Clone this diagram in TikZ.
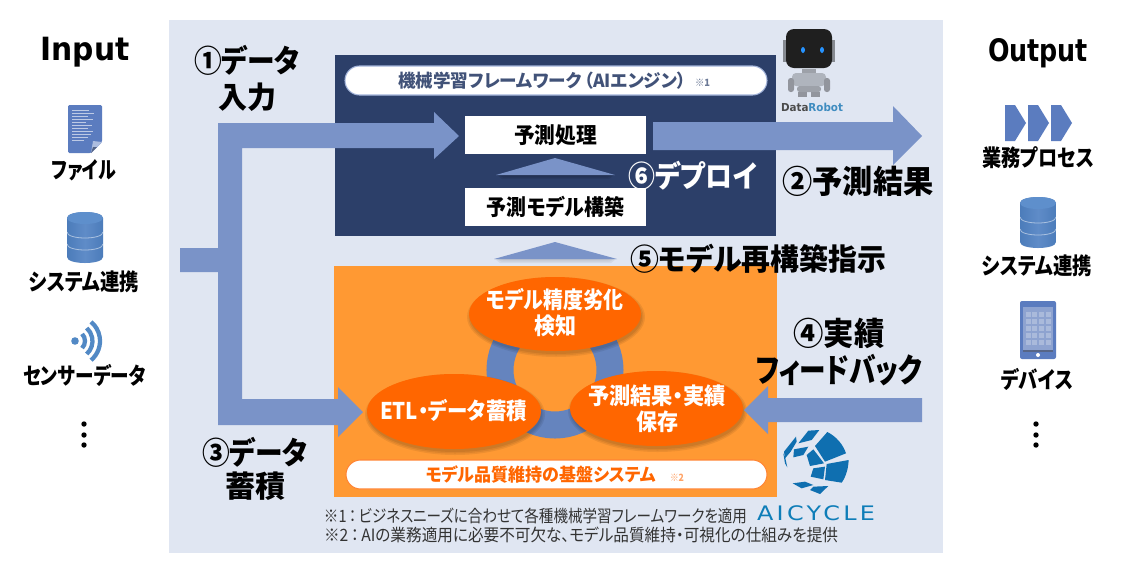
\documentclass[tikz,border=0pt]{standalone}
\usepackage{fontspec}
\usepackage{graphicx}
\usetikzlibrary{shapes.geometric,shapes.misc}
\setmainfont[RawFeature={+palt}]{Noto Sans CJK JP}
\newfontfamily\latf{DejaVu Sans}
\newfontfamily\logof[LetterSpace=14]{DejaVu Sans}
\newcommand\T[3]{\resizebox{\dimexpr#2pt*3/4\relax}{\height}{\fontsize{\the\dimexpr#1pt*3/4\relax}{\the\dimexpr#1pt*3/4\relax}\selectfont #3}}
\definecolor{panelc}{HTML}{E0E6F2}
\definecolor{navyc}{HTML}{2C3F69}
\definecolor{orgc}{HTML}{FF9933}
\definecolor{deeporg}{HTML}{FF6600}
\definecolor{arrowc}{HTML}{7A93C8}
\definecolor{ringc}{HTML}{6584BE}
\definecolor{iconc}{HTML}{5B7CBF}
\definecolor{cylside}{HTML}{4C7CBA}
\definecolor{cylmid}{HTML}{5F8CC8}
\definecolor{cyltop}{HTML}{5E8FCC}
\definecolor{logoc}{HTML}{0F6FB0}
\tikzset{
  lbl/.style={inner sep=0pt,outer sep=0pt,font=\bfseries,text=black},
  plain/.style={inner sep=0pt,outer sep=0pt,text=black!80},
  whitebox/.style={fill=white,inner sep=0pt,outer sep=0pt},
  blockarrow/.style={fill=arrowc,draw=none},
  bubble/.style={ellipse,fill=deeporg,inner sep=0pt,outer sep=0pt},
  bubbletxt/.style={inner sep=0pt,outer sep=0pt,text=white,font=\bfseries},
  softsh/.style={fill=black,opacity=.07,draw=none},
  tile/.style={fill=logoc,draw=none},
  liteline/.style={draw=white,opacity=.5,line width=.6pt}
}
\newcommand\cylicon[2]{%
  \begin{scope}[shift={(#1,#2)}]
    \path[left color=cylside,right color=cylside,middle color=cylmid]
      (0,6) -- (0,45) .. controls (0,53) and (36,53) .. (36,45) -- (36,6) .. controls (36,-2) and (0,-2) .. (0,6) -- cycle;
    \fill[cyltop] (18,6) ellipse[x radius=18,y radius=6];
    \draw[liteline] (0,20) .. controls (0,28) and (36,28) .. (36,20);
    \draw[liteline] (0,32) .. controls (0,40) and (36,40) .. (36,32);
  \end{scope}}
\newcommand\softell[4]{%
  \foreach \g in {0,1.5,3}{\fill[softsh] (#1+1,#2+3) ellipse[x radius=#3+\g,y radius=#4+\g];}}
\begin{document}
\begin{tikzpicture}[x=.75pt,y=-.75pt]
\useasboundingbox (0,0) rectangle (1122,569);
\fill[white] (0,0) rectangle (1122,569);
\fill[panelc] (169,20) rectangle (943,553);
% main boxes
\fill[navyc] (335,55) rectangle (776,236);
\fill[orgc] (334,266) rectangle (777,497);
% top pill
\node[rounded rectangle,fill=white,draw=arrowc!70!white,line width=.8pt,minimum width=316.5pt,minimum height=21.75pt,inner sep=0pt] (pilltop) at (556,80.5) {};
\node[lbl,text=navyc!90!white] (pilltoptxt) at (542,81) {\T{18}{288}{機械学習フレームワーク\,（AIエンジン）}};
\node[lbl,text=navyc!70!white] (mark1) at (702.5,83) {\T{10}{15}{※1}};
% process boxes
\node[whitebox,minimum width=135.75pt,minimum height=28.5pt] (pred) at (555.5,135) {\bfseries\T{22}{83}{予測処理}};
\node[whitebox,minimum width=135.75pt,minimum height=28.5pt] (build) at (555.5,207) {\bfseries\T{22}{137}{予測モデル構築}};
% up triangles
\foreach \g in {0,1.5,3}{\fill[black,opacity=.09] (500-\g,175) -- (611+\g,175) -- (606+\g,176+\g) -- (505-\g,176+\g) -- cycle;}
\fill[arrowc] (496,175) -- (555,158) -- (615,175) -- cycle;
\foreach \g in {0,1.5,3}{\fill[black,opacity=.05] (498-\g,259) -- (613+\g,259) -- (608+\g,260+\g) -- (503-\g,260+\g) -- cycle;}
\fill[arrowc] (494,259) -- (555,242) -- (617,259) -- cycle;
% ring and bubbles
\draw[ringc,line width=20.25pt] (555,370) circle[radius=55];
\softell{555}{314}{86}{37}
\softell{454}{411.5}{87}{37.5}
\softell{656.5}{408.5}{86.5}{37.5}
\node[bubble,minimum width=129pt,minimum height=55.5pt] (detect) at (555,314) {};
\node[bubble,minimum width=130.5pt,minimum height=56.25pt] (etl) at (454,411.5) {};
\node[bubble,minimum width=129.75pt,minimum height=56.25pt] (save) at (656.5,408.5) {};
\node[bubbletxt] (detect1) at (555,300) {\T{23}{137}{モデル精度劣化}};
\node[bubbletxt] (detect2) at (555,326) {\T{23}{42}{検知}};
\node[bubbletxt] (etl1) at (453.5,411) {\T{23}{147}{ETL・データ蓄積}};
\node[bubbletxt] (save1) at (657,396) {\T{23}{138}{予測結果・実績}};
\node[bubbletxt] (save2) at (657,422) {\T{23}{42}{保存}};
% bottom pill
\node[rounded rectangle,fill=white,draw=deeporg!80!white,line width=.8pt,minimum width=315.75pt,minimum height=21.75pt,inner sep=0pt] (pillbot) at (556.5,474.5) {};
\node[lbl,text=deeporg] (pillbottxt) at (541,474) {\T{18}{230}{モデル品質維持の基盤システム}};
\node[lbl,text=deeporg!60!white] (mark2) at (677,478) {\T{10}{14}{※2}};
% block arrows
\path[blockarrow] (180,248) -- (218,248) -- (218,123) -- (434,123) -- (434,112) -- (459,136) -- (434,159) -- (434,148)
  -- (242,148) -- (242,399) -- (338,399) -- (338,387) -- (363,412) -- (338,437) -- (338,425) -- (218,425) -- (218,272) -- (180,272) -- cycle;
\path[blockarrow] (653,122) -- (893,122) -- (893,106) -- (922,136) -- (893,165) -- (893,150) -- (653,150) -- cycle;
\path[blockarrow] (922,398) -- (768,398) -- (768,386) -- (744,410) -- (768,434) -- (768,422) -- (922,422) -- cycle;
% step labels
\node[lbl] (l1a) at (247,60) {\T{31}{106}{①データ}};
\node[lbl] (l1b) at (247,97) {\T{30}{58}{入力}};
\node[lbl] (l3a) at (255,452) {\T{31}{106}{③データ}};
\node[lbl] (l3b) at (255,486) {\T{30}{60}{蓄積}};
\node[lbl,text=white] (l6) at (692.5,176) {\T{30}{129}{⑥デプロイ}};
\node[lbl] (l2) at (858,181) {\T{32}{151}{②予測結果}};
\node[lbl] (l5) at (758,259) {\T{30}{256}{⑤モデル再構築指示}};
\node[lbl] (l4a) at (839,333) {\T{32}{91}{④実績}};
\node[lbl] (l4b) at (839,370) {\T{33}{166}{フィードバック}};
% footnotes
\node[plain] (fn1) at (535.5,516) {\T{17}{423}{※1\,：\,ビジネスニーズに合わせて各種機械学習フレームワークを適用}};
\node[plain] (fn2) at (581,535) {\T{17}{514}{※2\,：\,AIの業務適用に必要不可欠な、モデル品質維持・可視化の仕組みを提供}};
% headers
\node[lbl,font=\latf\bfseries] (input) at (85,52) {\T{32}{89}{Input}};
\node[lbl,font=\latf\bfseries] (output) at (1038,53) {\T{31}{100}{Output}};
% input items
\begin{scope}[shift={(68,105)}]
  \path[fill=iconc,rounded corners=1pt] (0,0) -- (34,0) -- (34,37) -- (23,48) -- (0,48) -- cycle;
  \fill[iconc!50!white] (34,37) -- (23,48) -- (25,36) -- cycle;
  \fill[navyc!80!white] (23,48) -- (25,42) -- (29,42) -- cycle;
  \foreach \yy/\xx in {5/21,8/26,11/20,14/25,17/18,20/24,23/20,26/25,29/23,32/20,35/16}
    \draw[white,opacity=.6,line width=.5pt] (4,\yy) -- (\xx,\yy);
\end{scope}
\node[lbl] (file) at (84,170) {\T{23}{64}{ファイル}};
\cylicon{67}{212}
\node[lbl] (sysin) at (84,282) {\T{23}{110}{システム連携}};
\fill[iconc!90!cyan] (75,341) circle[radius=3.8];
\begin{scope}[shift={(75,341)},yscale=-1]
  \draw[iconc!90!cyan,line width=3.2pt] (-45:10) arc[start angle=-45,end angle=45,radius=10];
  \draw[iconc!90!cyan,line width=3.2pt] (-48:17.5) arc[start angle=-48,end angle=48,radius=17.5];
  \draw[iconc!90!cyan,line width=3.2pt] (-50:25) arc[start angle=-50,end angle=50,radius=25];
\end{scope}
\node[lbl] (sensor) at (84.5,375) {\T{23}{123}{センサーデータ}};
\foreach \yy in {424,435,445} \fill[black] (84,\yy) circle[radius=2.7];
% output items
\foreach \xx in {1005,1028,1051}
  \fill[iconc] (\xx,105) -- (\xx+10,105) -- (\xx+21,123) -- (\xx+10,141) -- (\xx,141) -- cycle;
\node[lbl] (biz) at (1038,158) {\T{23}{112}{業務プロセス}};
\cylicon{1020}{197}
\node[lbl] (sysout) at (1037,266) {\T{23}{110}{システム連携}};
\fill[iconc,rounded corners=1.5pt] (1020,301) rectangle (1056,359);
\fill[arrowc!85!white] (1023,307) rectangle (1053,350);
\fill[navyc!80!white] (1023,350) rectangle (1053,352);
\foreach \cx in {0,1,2,3}\foreach \cy in {0,1,2,3,4}
  \fill[white,opacity=.25] (1025.5+\cx*6.9,312+\cy*7) rectangle +(5,5);
\fill[white] (1038,355) circle[radius=2];
\node[lbl] (device) at (1037,379) {\T{23}{72}{デバイス}};
\foreach \yy in {424,435,445} \fill[black] (1036,\yy) circle[radius=2.7];
% DataRobot logo
\fill[black!40!panelc] (783,40) rectangle (788,62);
\fill[black!40!panelc] (830,40) rectangle (835,62);
\fill[black!88,rounded corners=6pt] (786,29) rectangle (832,68);
\fill[black!30!panelc] (802,69) rectangle (816,74);
\fill[black!22!panelc,rounded corners=3pt] (792,73) rectangle (826,86);
\fill[black!30!panelc,rounded corners=2pt] (797,86) rectangle (821,92);
\fill[black!35!panelc,rounded corners=2pt] (788,78) rectangle (794,92);
\fill[black!35!panelc,rounded corners=2pt] (824,78) rectangle (830,92);
\fill[black!35!panelc] (798,92) rectangle (807,97);
\fill[black!35!panelc] (811,92) rectangle (820,97);
\fill[blue!50!cyan!85!white] (803,50) ellipse[x radius=2,y radius=3];
\fill[blue!50!cyan!85!white] (822,50) ellipse[x radius=2,y radius=3];
\node[inner sep=0pt,font=\latf\bfseries] (drlogo) at (812,107) {\T{11}{62}{\textcolor{black!70}{Data}\textcolor{logoc!80!white}{Robot}}};
% AICYCLE logo
\begin{scope}[shift={(770,420)},x=.25pt,y=-.25pt]
  \fill[tile] (85,70) -- (115,32) -- (148,30) -- (125,60) -- cycle;
  \fill[tile] (42,95) -- (78,50) -- (80,65) -- (62,95) -- (45,115) -- cycle;
  \fill[tile] (72,88) -- (115,80) -- (100,105) -- (70,112) -- cycle;
  \fill[tile] (172,36) .. controls (200,50) and (220,75) .. (228,100) -- (165,125) -- (135,78) -- cycle;
  \fill[tile] (130,88) -- (162,130) -- (120,138) -- (110,105) -- cycle;
  \fill[tile] (236,120) .. controls (235,145) and (228,170) .. (215,188) -- (165,180) -- (170,132) -- cycle;
  \fill[tile] (130,145) -- (165,140) -- (160,178) -- (122,170) -- cycle;
  \fill[tile] (68,190) -- (105,185) -- (130,195) -- (95,205) -- cycle;
  \fill[tile] (130,200) -- (175,198) -- (150,222) -- (120,210) -- cycle;
  \fill[tile] (40,100) -- (45,130) -- (52,142) -- (45,110) -- cycle;
\end{scope}
\node[inner sep=0pt,font=\logof,text=logoc!90!cyan] (aicycle) at (816,513) {\T{20}{118}{AICYCLE}};
\end{tikzpicture}
\end{document}
